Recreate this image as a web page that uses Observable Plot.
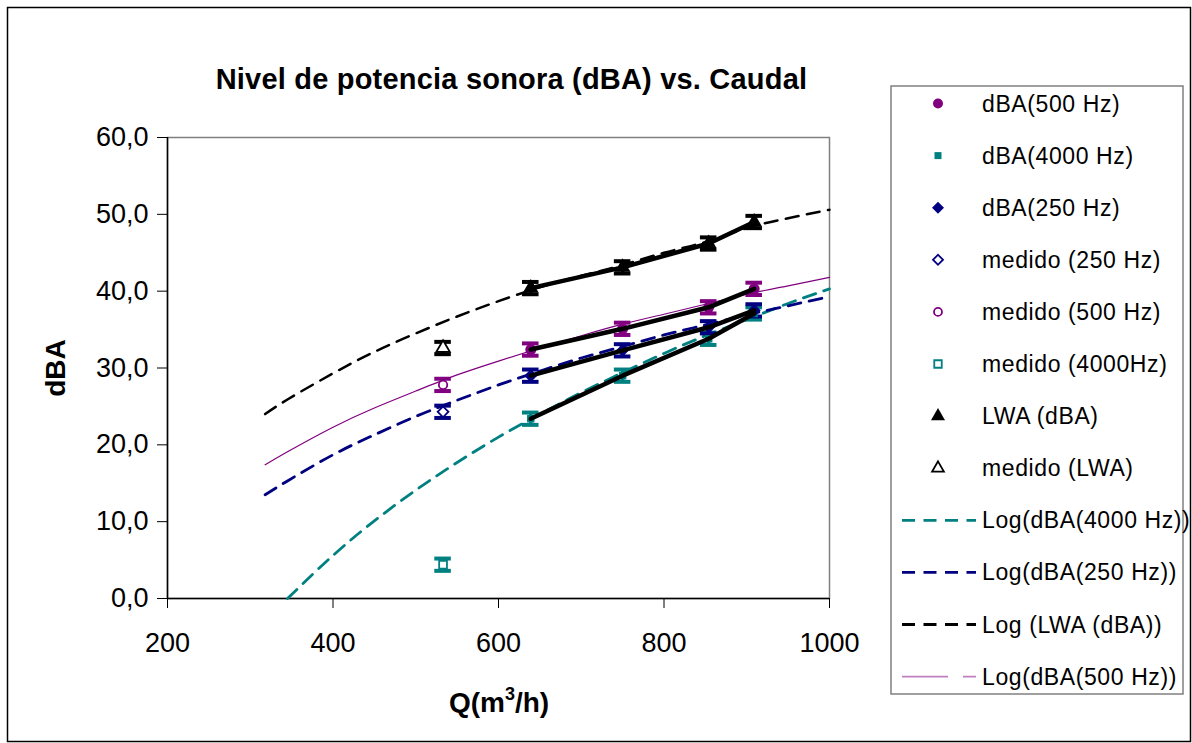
<!DOCTYPE html>
<html>
<head>
<meta charset="utf-8">
<script src="https://cdn.jsdelivr.net/npm/d3@7"></script>
<script src="https://cdn.jsdelivr.net/npm/@observablehq/plot@0.6"></script>
<style>
  body { margin: 0; background: #fff; }
  #chart { width: 1192px; height: 743px; overflow: hidden; }
</style>
</head>
<body>
<div id="chart"></div>
<script>
// ---------- data ----------
const xTicks = [200, 400, 600, 800, 1000];
const yTicks = [0, 10, 20, 30, 40, 50, 60];

// measured single points ("medido")
const qMedido = [533];
const medido500 = [27.8];
const medido250 = [24.3];
const medido4000 = [4.4];
const medidoLWA = [32.6];

// series points (filled markers, joined by thick black line)
const qSeries = [639, 750, 854, 909];
const dba500 = [32.4, 35.1, 37.9, 40.3];
const dba4000 = [23.4, 29.0, 33.8, 37.1];
const dba250 = [29.0, 32.3, 35.3, 37.5];
const lwaDBA = [40.4, 43.1, 46.2, 49.0];

// error bar half-height (dB)
const errHalf = 0.8;

// logarithmic trend lines
const qTrend = [318, 345, 400, 450, 500, 550, 600, 650, 700, 750, 800, 850, 900, 950, 1000];
const logLWA = [24.0, 25.9, 29.3, 32.1, 34.5, 36.7, 38.7, 40.5, 42.0, 43.4, 45.0, 46.4, 48.2, 49.5, 50.6];
const log500 = [17.4, 19.1, 22.3, 24.8, 27.0, 29.1, 30.9, 32.6, 34.2, 35.7, 37.0, 38.3, 39.6, 40.7, 41.8];
const log250 = [13.5, 15.3, 18.7, 21.3, 23.7, 25.8, 27.8, 29.6, 31.3, 32.8, 34.3, 35.6, 36.9, 38.1, 39.3];
const qTrend4000 = [345, 400, 450, 500, 550, 600, 650, 700, 750, 800, 850, 900, 950, 1000];
const log4000 = [0.0, 5.6, 10.1, 14.1, 17.7, 21.0, 24.0, 26.8, 29.4, 31.9, 34.2, 36.3, 38.4, 40.3];

// legend labels
const legendLabels = [
  "dBA(500 Hz)", "dBA(4000 Hz)", "dBA(250 Hz)", "medido (250 Hz)", "medido (500 Hz)",
  "medido (4000Hz)", "LWA (dBA)", "medido (LWA)", "Log(dBA(4000 Hz))", "Log(dBA(250 Hz))",
  "Log (LWA (dBA))", "Log(dBA(500 Hz))"
];

// ---------- styles ----------
const PURPLE = "#800080", TEAL = "#008080", NAVY = "#000080", BLACK = "#000000";
const FONT = "'Liberation Sans', Arial, sans-serif";

const W = 1192, H = 743;
const plotL = 167, plotR = 829, plotT = 137, plotB = 598;

// ---------- series definitions ----------
const pointSeries = [
  {name: "dBA(500 Hz)", qs: qSeries, vs: dba500, color: PURPLE, symbol: "circle", filled: true, r: 5.5, rotate: 0},
  {name: "dBA(4000 Hz)", qs: qSeries, vs: dba4000, color: TEAL, symbol: "square", filled: true, r: 4.2, rotate: 0},
  {name: "dBA(250 Hz)", qs: qSeries, vs: dba250, color: NAVY, symbol: "square", filled: true, r: 5.2, rotate: 45},
  {name: "medido (250 Hz)", qs: qMedido, vs: medido250, color: NAVY, symbol: "square", filled: false, r: 4.3, rotate: 45},
  {name: "medido (500 Hz)", qs: qMedido, vs: medido500, color: PURPLE, symbol: "circle", filled: false, r: 4.2, rotate: 0},
  {name: "medido (4000Hz)", qs: qMedido, vs: medido4000, color: TEAL, symbol: "square", filled: false, r: 4.4, rotate: 0},
  {name: "LWA (dBA)", qs: qSeries, vs: lwaDBA, color: BLACK, symbol: "triangle", filled: true, r: 5.8, rotate: 0},
  {name: "medido (LWA)", qs: qMedido, vs: medidoLWA, color: BLACK, symbol: "triangle", filled: false, r: 5.0, rotate: 0}
];
const rows = s => s.qs.map((q, i) => ({q, v: s.vs[i], name: s.name, color: s.color}));
const allPts = pointSeries.flatMap(rows);
const filledPts = pointSeries.filter(s => s.filled).flatMap(rows);

const trend = (qs, vs) => qs.map((q, i) => ({q, v: vs[i]}));
const trendLWA = trend(qTrend, logLWA);
const trend500 = trend(qTrend, log500);
const trend250 = trend(qTrend, log250);
const trend4000 = trend(qTrend4000, log4000);

const capHalf = 10; // in Q units (~8px)
const dash = "13,8.5";

const fmt = d => d.toFixed(1).replace(".", ",");

const dotMarks = pointSeries.map(s =>
  Plot.dot(rows(s), {
    x: "q", y: "v", symbol: s.symbol, r: s.r, rotate: s.rotate,
    fill: s.filled ? s.color : "#fff",
    stroke: s.filled ? "none" : s.color,
    strokeWidth: 1.8
  })
);

const chart = Plot.plot({
  width: W,
  height: H,
  marginLeft: plotL,
  marginRight: W - plotR,
  marginTop: plotT,
  marginBottom: H - plotB,
  style: {fontFamily: FONT, fontSize: "27px", color: "#000", background: "#fff", overflow: "visible"},
  x: {domain: [200, 1000]},
  y: {domain: [0, 60]},
  color: {type: "identity"},
  marks: [
    Plot.frame({stroke: "#808080", strokeWidth: 1.5}),
    Plot.ruleX([200], {stroke: "#000", strokeWidth: 1.5}),
    Plot.ruleY([0], {stroke: "#000", strokeWidth: 1.5}),
    Plot.axisY({ticks: yTicks, tickFormat: fmt, tickSize: 10, tickPadding: 9, label: null, fontSize: 27}),
    Plot.axisX({ticks: xTicks, tickFormat: d => String(d), tickSize: 10, tickPadding: 24, label: null, fontSize: 27}),
    // trend lines
    Plot.line(trend500, {x: "q", y: "v", stroke: PURPLE, strokeWidth: 1.2, curve: "natural"}),
    Plot.line(trend4000, {x: "q", y: "v", stroke: TEAL, strokeWidth: 2.8, strokeDasharray: dash, curve: "natural"}),
    Plot.line(trend250, {x: "q", y: "v", stroke: NAVY, strokeWidth: 2.8, strokeDasharray: dash, curve: "natural"}),
    Plot.line(trendLWA, {x: "q", y: "v", stroke: BLACK, strokeWidth: 2.5, strokeDasharray: dash, curve: "natural"}),
    // error bars
    Plot.ruleX(allPts, {x: "q", y1: d => d.v - errHalf, y2: d => d.v + errHalf, stroke: "color", strokeWidth: 3.5}),
    Plot.ruleY(allPts, {y: d => d.v + errHalf, x1: d => d.q - capHalf, x2: d => d.q + capHalf, stroke: "color", strokeWidth: 4}),
    Plot.ruleY(allPts, {y: d => d.v - errHalf, x1: d => d.q - capHalf, x2: d => d.q + capHalf, stroke: "color", strokeWidth: 4}),
    // markers
    ...dotMarks,
    // thick black connecting lines
    Plot.line(filledPts, {x: "q", y: "v", z: "name", stroke: BLACK, strokeWidth: 4.5, strokeLinecap: "round"})
  ]
});

document.getElementById("chart").appendChild(chart);

// ---------- overlay: border, title, axis titles, legend ----------
const svg = d3.select(chart);
const g = svg.append("g").attr("font-family", FONT).attr("fill", "#000");

// outer chart border
g.append("rect").attr("x", 7.5).attr("y", 7.5).attr("width", 1183).attr("height", 734)
  .attr("fill", "none").attr("stroke", "#000").attr("stroke-width", 1.5);

// title
g.append("text").attr("x", 511.5).attr("y", 89).attr("text-anchor", "middle")
  .attr("font-size", 29).attr("font-weight", "bold").attr("letter-spacing", 0.2)
  .text("Nivel de potencia sonora (dBA) vs. Caudal");

// y axis title
g.append("text").attr("transform", "translate(65,368) rotate(-90)").attr("text-anchor", "middle")
  .attr("font-size", 28).attr("font-weight", "bold").text("dBA");

// x axis title with superscript
const xt = g.append("text").attr("x", 499).attr("y", 712).attr("text-anchor", "middle")
  .attr("font-size", 28).attr("font-weight", "bold");
xt.append("tspan").text("Q(m");
xt.append("tspan").attr("font-size", 18).attr("dy", -12).text("3");
xt.append("tspan").attr("dy", 12).text("/h)");

// legend
const lg = g.append("g");
lg.append("rect").attr("x", 891).attr("y", 86).attr("width", 292).attr("height", 608)
  .attr("fill", "#fff").attr("stroke", "#808080").attr("stroke-width", 1.5);

const legendRowY = i => 103.5 + i * 52.1;
const mx = 938;
const sym = (type, size) => d3.symbol(type, size)();
const legendMarks = [
  {path: sym(d3.symbolCircle, 78.5), fill: PURPLE, stroke: "none"},
  {path: sym(d3.symbolSquare, 49), fill: TEAL, stroke: "none"},
  {path: sym(d3.symbolSquare, 72), fill: NAVY, stroke: "none", rot: 45},
  {path: sym(d3.symbolSquare, 50), fill: "#fff", stroke: NAVY, rot: 45},
  {path: sym(d3.symbolCircle, 50), fill: "#fff", stroke: PURPLE},
  {path: sym(d3.symbolSquare, 56), fill: "#fff", stroke: TEAL},
  {path: sym(d3.symbolTriangle, 85), fill: BLACK, stroke: "none"},
  {path: sym(d3.symbolTriangle, 60), fill: "#fff", stroke: BLACK}
];
legendMarks.forEach((m, i) => {
  lg.append("path").attr("d", m.path)
    .attr("transform", `translate(${mx},${legendRowY(i)}) rotate(${m.rot || 0})`)
    .attr("fill", m.fill).attr("stroke", m.stroke).attr("stroke-width", 1.8);
});
const legendLines = [
  {stroke: TEAL, width: 2.8, dash: dash, opacity: 1},
  {stroke: NAVY, width: 2.8, dash: dash, opacity: 1},
  {stroke: BLACK, width: 2.8, dash: dash, opacity: 1},
  {stroke: PURPLE, width: 1.6, dash: "46,15,14", opacity: 0.5}
];
legendLines.forEach((l, j) => {
  const y = legendRowY(8 + j);
  lg.append("line").attr("x1", 902).attr("x2", 976).attr("y1", y).attr("y2", y)
    .attr("stroke", l.stroke).attr("stroke-width", l.width)
    .attr("stroke-dasharray", l.dash).attr("stroke-opacity", l.opacity);
});
legendLabels.forEach((t, i) => {
  lg.append("text").attr("x", 982).attr("y", legendRowY(i)).attr("dy", "0.35em")
    .attr("text-anchor", "start")
    .attr("font-size", 23).attr("letter-spacing", 0.6).text(t);
});
</script>
</body>
</html>
